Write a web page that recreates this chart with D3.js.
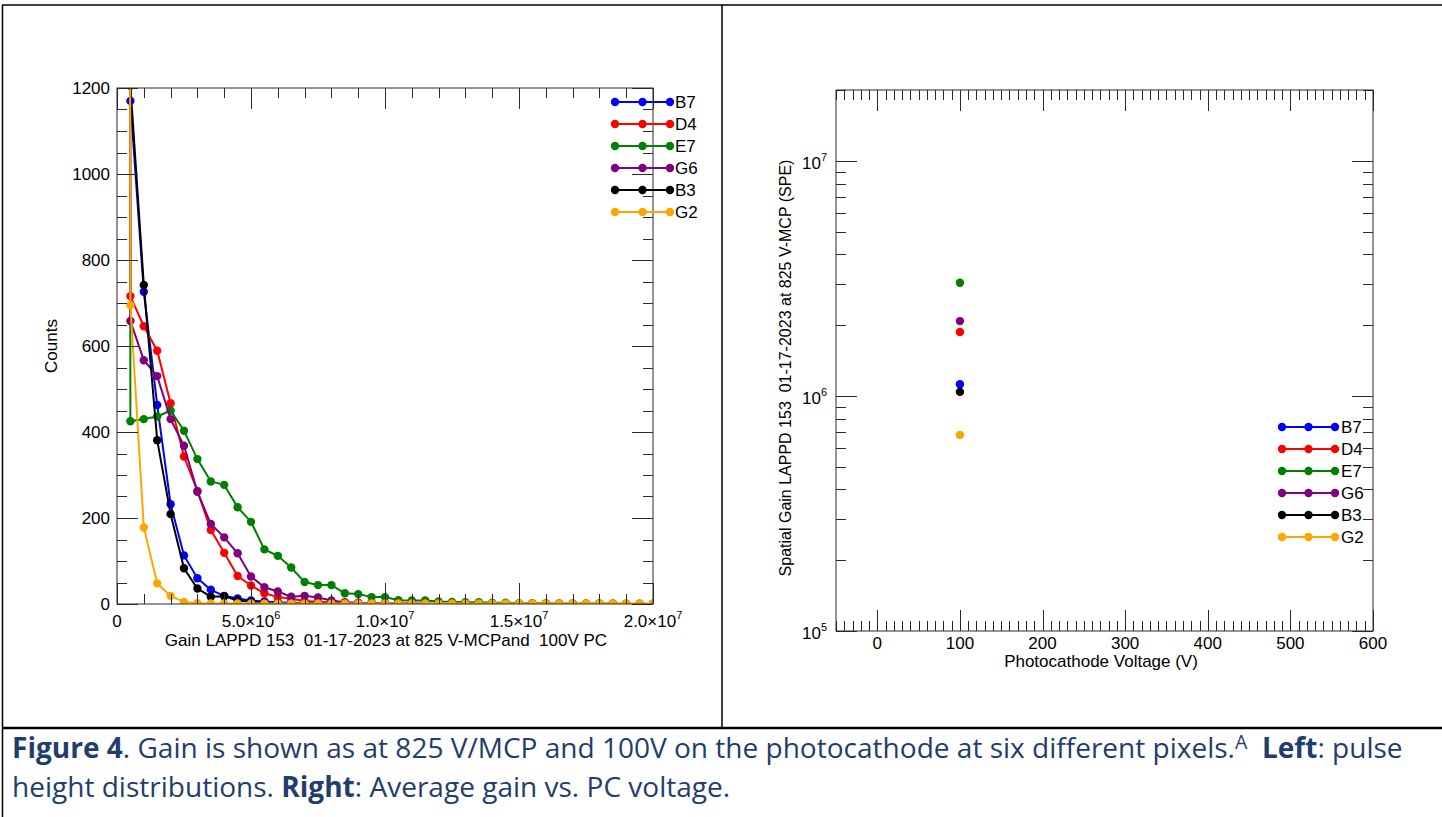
<!DOCTYPE html>
<html><head><meta charset="utf-8">
<script src="https://cdn.jsdelivr.net/npm/d3@7"></script>
<style>
html,body{margin:0;padding:0;background:#fff;}
svg{display:block;}
text{font-family:"Liberation Sans",Arial,sans-serif;white-space:pre;}
</style></head>
<body>
<svg id="c" width="1442" height="817"></svg>
<script>
// ---------- DATA ----------
// Left panel: pulse height distributions, bins every 5e5 gain (0 .. 2e7)
const binStep = 5e5;
const seriesNames = ["B7","D4","E7","G6","B3","G2"];
const seriesColors = ["#0000ff","#ff0000","#008000","#800080","#000000","#ffa500"];
const countsB7 = [30000,1170,726,463,232,113,60,33,19,13,8,6,4,3,2,2,1,1,1,1,0,0,0,0,0,0,0,0,0,0,0,0,0,0,0,0,0,0,0,0,0];
const countsD4 = [30000,716,646,589,467,343,263,172,119,65,43,25,16,12,7,5,4,3,2,2,1,1,1,0,0,0,0,0,0,0,0,0,0,0,0,0,0,0,0,0,0];
const countsE7 = [30000,425,430,436,450,403,337,285,277,225,191,127,112,85,51,44,44,25,23,16,16,9,8,8,6,5,4,4,3,3,2,2,2,1,1,1,1,1,0,0,0];
const countsG6 = [30000,658,567,530,430,368,261,186,155,118,64,39,29,17,19,15,8,4,3,2,2,1,1,1,0,0,0,0,0,0,0,0,0,0,0,0,0,0,0,0,0];
const countsB3 = [30000,1205,742,381,209,83,36,17,18,8,5,3,2,2,1,1,1,0,0,0,0,0,0,0,0,0,0,0,0,0,0,0,0,0,0,0,0,0,0,0,0];
const countsG2 = [30000,695,178,48,19,5,2,1,1,1,1,1,1,1,1,1,1,1,1,1,1,1,1,1,1,1,1,1,1,1,1,1,1,1,1,1,1,1,1,1,1];
const leftXTicks = [0,5e6,1e7,1.5e7,2e7];
const leftXTickLabels = [["0",""],["5.0\u00d710","6"],["1.0\u00d710","7"],["1.5\u00d710","7"],["2.0\u00d710","7"]];
const leftYTicks = [0,200,400,600,800,1000,1200];
const leftXTitle = "Gain LAPPD 153  01-17-2023 at 825 V-MCPand  100V PC";
const leftYTitle = "Counts";

// Right panel: average gain vs photocathode voltage
const pcVoltage = [100,100,100,100,100,100];
const avgGain = [1.12e6,1.87e6,3.03e6,2.08e6,1.04e6,6.82e5];
const rightXTicks = [0,100,200,300,400,500,600];
const rightYTicks = [1e5,1e6,1e7];
const rightYTickLabels = [["10","5"],["10","6"],["10","7"]];
const rightXTitle = "Photocathode Voltage (V)";
const rightYTitle = "Spatial Gain LAPPD 153  01-17-2023 at 825 V-MCP (SPE)";

const captionLine1 = [["Figure 4",true,false],[". Gain is shown as at 825 V/MCP and 100V on the photocathode at six different pixels.",false,false],["A",false,true],["  ",false,false],["Left",true,false],[": pulse",false,false]];
const captionLine2 = [["height distributions. ",false,false],["Right",true,false],[": Average gain vs. PC voltage.",false,false]];

// ---------- DRAW ----------
const svg = d3.select("#c");
const axisCol = "#2a2a2a";
const FS = 17;

// table borders
const tb = svg.append("g").attr("stroke","#000").attr("fill","none");
tb.append("line").attr("x1",2).attr("x2",1442).attr("y1",5).attr("y2",5).attr("stroke-width",1.5);
tb.append("line").attr("x1",2.5).attr("x2",2.5).attr("y1",5).attr("y2",817).attr("stroke-width",1.5);
tb.append("line").attr("x1",722).attr("x2",722).attr("y1",5).attr("y2",728).attr("stroke-width",1.5);
tb.append("line").attr("x1",2).attr("x2",1442).attr("y1",728).attr("y2",728).attr("stroke-width",2.5);

function drawFrame(g, x, y, xMajor, xMinor, yMajor, yMinor, majLen, minLen){
  const [x0,x1] = x.range(), [y0,y1] = y.range(); // y0 bottom, y1 top
  g.append("rect").attr("x",x0).attr("y",y1).attr("width",x1-x0).attr("height",y0-y1)
   .attr("fill","none").attr("stroke",axisCol).attr("stroke-width",1);
  const t = g.append("g").attr("stroke",axisCol).attr("stroke-width",1);
  const addX = (vals,len)=>vals.forEach(v=>{
    const px = Math.round(x(v))+0.5;
    t.append("line").attr("x1",px).attr("x2",px).attr("y1",y0).attr("y2",y0-len);
    t.append("line").attr("x1",px).attr("x2",px).attr("y1",y1).attr("y2",y1+len);
  });
  const addY = (vals,len)=>vals.forEach(v=>{
    const py = Math.round(y(v))+0.5;
    t.append("line").attr("x1",x0).attr("x2",x0+len).attr("y1",py).attr("y2",py);
    t.append("line").attr("x1",x1).attr("x2",x1-len).attr("y1",py).attr("y2",py);
  });
  addX(xMinor,minLen); addX(xMajor,majLen); addY(yMinor,minLen); addY(yMajor,majLen);
}

function supLabel(g, x, y, base, sup, anchor, size){
  const t = g.append("text").attr("x",x).attr("y",y).attr("text-anchor",anchor)
    .attr("font-size",size).attr("fill","#000");
  t.append("tspan").text(base);
  if(sup) t.append("tspan").attr("dy",-8).attr("font-size",Math.round(size*0.65)).text(sup);
  return t;
}

// ----- Left panel -----
const xL = d3.scaleLinear().domain([0,2e7]).range([117,653]);
const yL = d3.scaleLinear().domain([0,1200]).range([604,88]);
const gL = svg.append("g");
gL.append("clipPath").attr("id","clipL").append("rect")
  .attr("x",117).attr("y",88).attr("width",536).attr("height",516);
const xMinorL = d3.range(0,2e7+1,1e6).filter(v=>v%5e6!==0);
const yMinorL = d3.range(0,1201,50).filter(v=>v%200!==0);

const allCounts = [countsB7,countsD4,countsE7,countsG6,countsB3,countsG2];
const plotL = gL.append("g").attr("clip-path","url(#clipL)");
const lineL = d3.line().x((d,i)=>xL(i*binStep)).y(d=>yL(d));
allCounts.forEach((arr,k)=>{
  const s = plotL.append("g");
  s.append("path").attr("d",lineL(arr)).attr("fill","none")
   .attr("stroke",seriesColors[k]).attr("stroke-width",2);
  s.selectAll("circle").data(arr).join("circle")
   .attr("cx",(d,i)=>xL(i*binStep)).attr("cy",d=>yL(d)).attr("r",4.2)
   .attr("fill",seriesColors[k]);
});
drawFrame(gL,xL,yL,leftXTicks,xMinorL,leftYTicks,yMinorL,21,10);

leftYTicks.forEach(v=>{
  gL.append("text").attr("x",110).attr("y",yL(v)+6).attr("text-anchor","end")
    .attr("font-size",FS).text(v);
});
leftXTicks.forEach((v,i)=>{
  supLabel(gL,xL(v),627,leftXTickLabels[i][0],leftXTickLabels[i][1],"middle",FS);
});
gL.append("text").attr("x",386).attr("y",646).attr("text-anchor","middle")
  .attr("font-size",FS).text(leftXTitle);
gL.append("text").attr("transform","translate(57,346) rotate(-90)")
  .attr("text-anchor","middle").attr("font-size",FS).text(leftYTitle);

function legend(g, xs, xe, xt, y0, dy){
  seriesNames.forEach((n,k)=>{
    const y = y0 + k*dy;
    g.append("line").attr("x1",xs).attr("x2",xe).attr("y1",y).attr("y2",y)
      .attr("stroke",seriesColors[k]).attr("stroke-width",2);
    [xs,(xs+xe)/2,xe].forEach(cx=>g.append("circle").attr("cx",cx).attr("cy",y).attr("r",4.2).attr("fill",seriesColors[k]));
    g.append("text").attr("x",xt).attr("y",y+6).attr("font-size",FS).text(n);
  });
}
legend(gL,615,670,675,102,22);

// ----- Right panel -----
const xR = d3.scaleLinear().domain([-50,600]).range([836,1373]);
const yR = d3.scaleLog().domain([1e5,2e7]).range([631,90]);
const gR = svg.append("g");
const xMinorR = d3.range(-50,601,10).filter(v=>v%100!==0);
const yMinorR = [];
[1e5,1e6,1e7].forEach(d=>{for(let m=2;m<=9;m++){ if(d*m<=2e7) yMinorR.push(d*m);} });
drawFrame(gR,xR,yR,rightXTicks,xMinorR,rightYTicks,yMinorR,21,10);

rightXTicks.forEach(v=>{
  gR.append("text").attr("x",xR(v)).attr("y",649).attr("text-anchor","middle")
    .attr("font-size",FS).text(v);
});
rightYTicks.forEach((v,i)=>{
  supLabel(gR,827,yR(v)+8,rightYTickLabels[i][0],rightYTickLabels[i][1],"end",FS);
});
gR.append("text").attr("x",1101).attr("y",667).attr("text-anchor","middle")
  .attr("font-size",FS).text(rightXTitle);
gR.append("text").attr("transform","translate(791,368) rotate(-90)")
  .attr("text-anchor","middle").attr("font-size",16).text(rightYTitle);

pcVoltage.forEach((v,k)=>{
  gR.append("circle").attr("cx",xR(v)).attr("cy",yR(avgGain[k])).attr("r",4.2)
    .attr("fill",seriesColors[k]);
});
legend(gR,1282,1335,1341,427,22);

// ----- Caption -----
const capCol = "#1f3d6e";
function caption(parts, y){
  const t = svg.append("text").attr("x",12).attr("y",y).attr("fill",capCol)
    .style("font-family","'Open Sans','Noto Sans',sans-serif").attr("font-size",22);
  let prevSup = false;
  parts.forEach(([s,b,sup])=>{
    const ts = t.append("tspan").text(s).attr("font-weight",b?"bold":"normal");
    if(sup){ ts.attr("font-size","0.7em").attr("dy",-9); }
    else if(prevSup){ ts.attr("dy",9); }
    prevSup = sup;
  });
  return t;
}
const c1 = caption(captionLine1,758);
const c2 = caption(captionLine2,797);
// fit line 1 width to the reference (x 12..1403)
const w1 = c1.node().getComputedTextLength();
const fs = 22*1391/w1;
c1.attr("font-size",fs); c2.attr("font-size",fs);
</script>
</body></html>
